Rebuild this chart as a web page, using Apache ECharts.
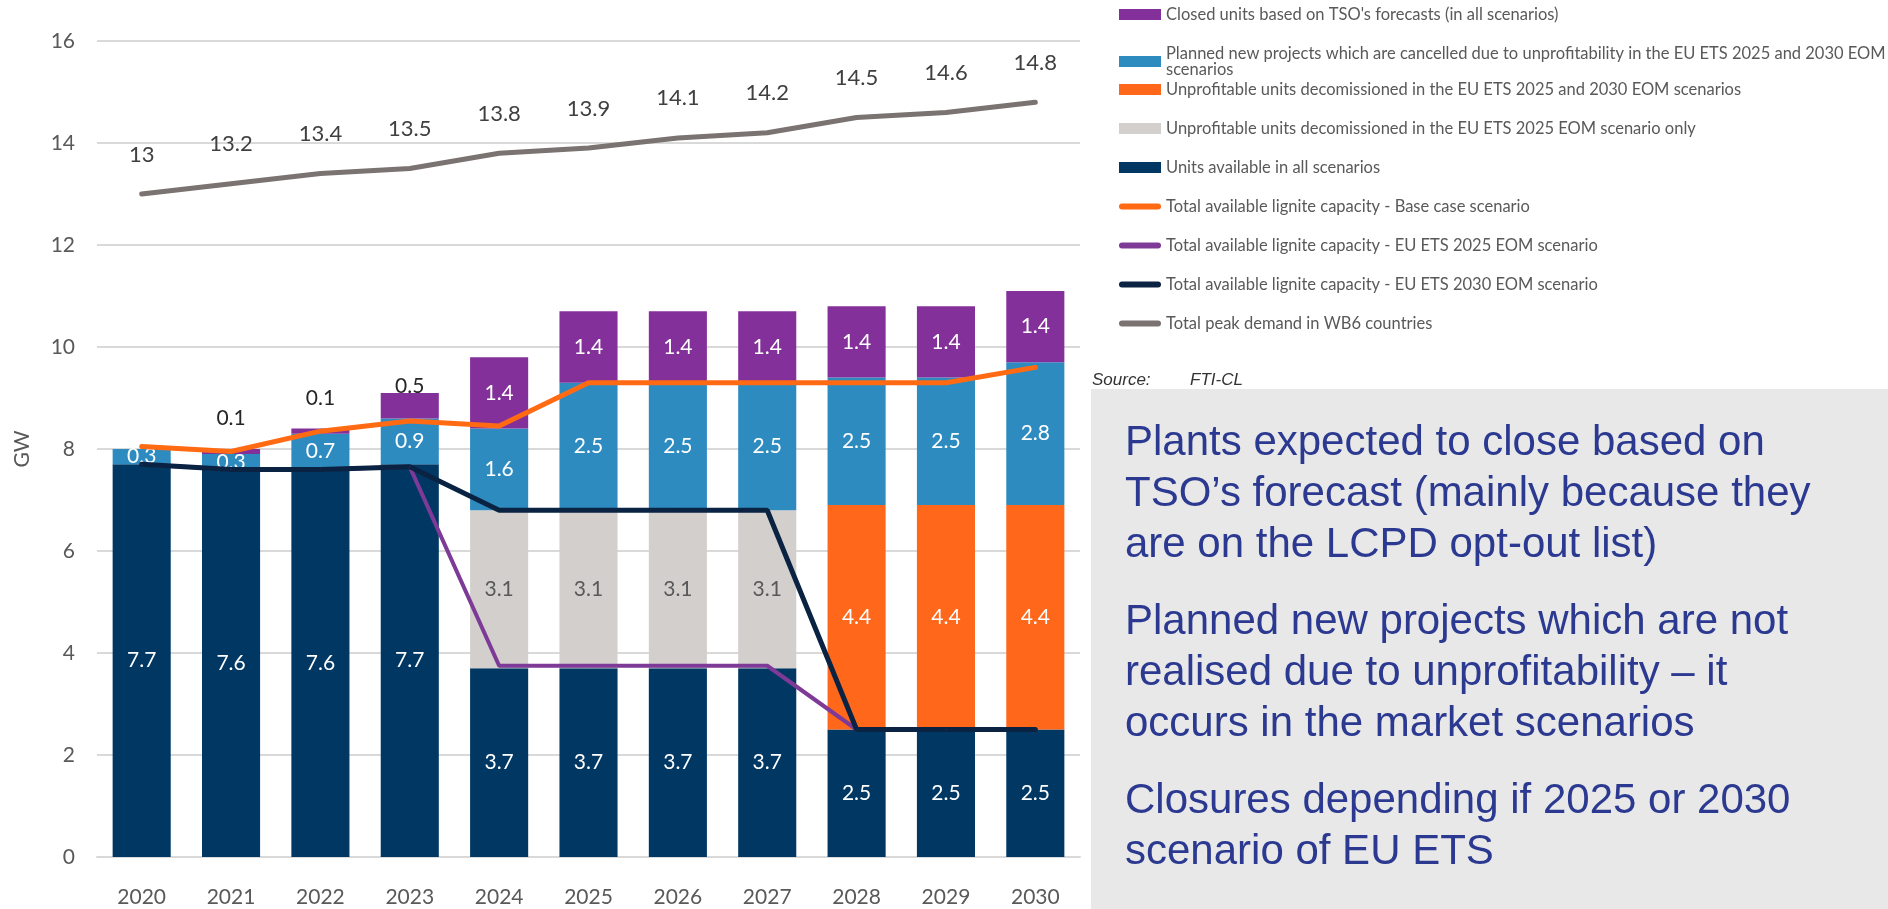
<!doctype html>
<html lang="en">
<head>
<meta charset="UTF-8">
<title>Lignite capacity in WB6</title>
<script src="https://cdn.jsdelivr.net/npm/echarts@6.0.0/dist/echarts.min.js"></script>
<style>
    html, body { margin: 0; padding: 0; background: #fff; }
    #main { width: 1888px; height: 909px; }
</style>
</head>
<body>
<div id="main"></div>
<script type="text/javascript">
// categories
var years = ['2020', '2021', '2022', '2023', '2024', '2025', '2026', '2027', '2028', '2029', '2030'];

// stacked bars (GW), bottom to top
var unitsAll   = [7.7, 7.6, 7.6, 7.7, 3.7, 3.7, 3.7, 3.7, 2.5, 2.5, 2.5];
var decom2025  = [0, 0, 0, 0, 3.1, 3.1, 3.1, 3.1, 0, 0, 0];
var decomBoth  = [0, 0, 0, 0, 0, 0, 0, 0, 4.4, 4.4, 4.4];
var cancelled  = [0.3, 0.3, 0.7, 0.9, 1.6, 2.5, 2.5, 2.5, 2.5, 2.5, 2.8];
var closedTso  = [0, 0.1, 0.1, 0.5, 1.4, 1.4, 1.4, 1.4, 1.4, 1.4, 1.4];

// lines (GW)
var baseCase   = [8.05, 7.95, 8.35, 8.55, 8.45, 9.3, 9.3, 9.3, 9.3, 9.3, 9.6];
var ets2025    = [7.7, 7.6, 7.6, 7.65, 3.75, 3.75, 3.75, 3.75, 2.5, 2.5, 2.5];
var ets2030    = [7.7, 7.6, 7.6, 7.65, 6.8, 6.8, 6.8, 6.8, 2.5, 2.5, 2.5];
var peakDemand = [13, 13.2, 13.4, 13.5, 13.8, 13.9, 14.1, 14.2, 14.5, 14.6, 14.8];

// right hand text box
var notes = [
    ['Plants expected to close based on', 'TSO\u2019s forecast (mainly because they', 'are on the LCPD opt-out list)'],
    ['Planned new projects which are not', 'realised due to unprofitability \u2013 it', 'occurs in the market scenarios'],
    ['Closures depending if 2025 or 2030', 'scenario of EU ETS']
];

var names = [
    "Closed units based on TSO's forecasts (in all scenarios)",
    'Planned new projects which are cancelled due to unprofitability in the EU ETS 2025 and 2030 EOM scenarios',
    'Unprofitable units decomissioned in the EU ETS 2025 and 2030 EOM scenarios',
    'Unprofitable units decomissioned in the EU ETS 2025 EOM scenario only',
    'Units available in all scenarios',
    'Total available lignite capacity - Base case scenario',
    'Total available lignite capacity - EU ETS 2025 EOM scenario',
    'Total available lignite capacity - EU ETS 2030 EOM scenario',
    'Total peak demand in WB6 countries'
];

var FONT = 'Lato, "Open Sans", sans-serif';
var lineIcon = 'path://M3,0 L39,0 A3,3 0 0 1 39,6 L3,6 A3,3 0 0 1 3,0 Z';

function hideZero(p) {
    return p.value ? String(p.value) : '';
}

function barSeries(name, data, color, labelColor) {
    return {
        name: name,
        type: 'bar',
        stack: 'cap',
        barWidth: '65%',
        data: data,
        itemStyle: { color: color },
        label: {
            show: true,
            position: 'inside',
            formatter: hideZero,
            color: labelColor,
            fontFamily: FONT,
            fontSize: 21
        }
    };
}

function lineSeries(name, data, color, width) {
    return {
        name: name,
        type: 'line',
        data: data,
        symbol: 'circle',
        symbolSize: 1,
        itemStyle: { color: color },
        lineStyle: { color: color, width: width, cap: 'round' },
        z: 5
    };
}

// small purple segments get their label above the bar
var closedData = closedTso.map(function (v) {
    if (v > 0 && v < 1) {
        return { value: v, label: { position: 'top', color: '#262626', distance: v < 0.3 ? 20 : -4 } };
    }
    return v;
});

var series = [
    barSeries(names[4], unitsAll, '#003763', '#ffffff'),
    barSeries(names[3], decom2025, '#D2CFCD', '#595959'),
    barSeries(names[2], decomBoth, '#FF671B', '#ffffff'),
    barSeries(names[1], cancelled, '#2E8BC0', '#ffffff'),
    barSeries(names[0], closedData, '#84309A', '#ffffff'),
    lineSeries(names[5], baseCase, '#FF6A13', 5),
    lineSeries(names[6], ets2025, '#7E3A97', 4),
    lineSeries(names[7], ets2030, '#0B2342', 5),
    lineSeries(names[8], peakDemand, '#7A7371', 5)
];
series[8].label = {
    show: true,
    position: 'top',
    distance: 28,
    color: '#404040',
    fontFamily: FONT,
    fontSize: 22
};

var legendText = { color: '#595959', fontFamily: FONT, fontSize: 16.5, lineHeight: 16 };

var graphics = [
    { type: 'rect', left: 1091, top: 389, silent: true,
      shape: { width: 797, height: 520 }, style: { fill: '#E8E8E8' } },
    { type: 'text', x: 1092, y: 380,
      style: { text: 'Source:', font: 'italic 17px "Liberation Sans", Arial, sans-serif', fill: '#333',
               textAlign: 'left', textVerticalAlign: 'middle', align: 'left', verticalAlign: 'middle' } },
    { type: 'text', x: 1190, y: 380,
      style: { text: 'FTI-CL', font: 'italic 17px "Liberation Sans", Arial, sans-serif', fill: '#333',
               textAlign: 'left', textVerticalAlign: 'middle', align: 'left', verticalAlign: 'middle' } }
];
var k = 0;
for (var p = 0; p < notes.length; p++) {
    for (var l = 0; l < notes[p].length; l++) {
        graphics.push({
            type: 'text', x: 1125, y: 443 + k * 51 + p * 26,
            style: { text: notes[p][l], font: '42px "Liberation Sans", Arial, sans-serif', fill: '#2B3990',
                     textAlign: 'left', textVerticalAlign: 'middle', align: 'left', verticalAlign: 'middle' }
        });
        k++;
    }
}

var myChart = echarts.init(document.getElementById('main'));
var option = {
    animation: false,
    backgroundColor: '#ffffff',
    grid: { left: 97, right: 808, top: 41, bottom: 52 },
    legend: [
        {
            orient: 'vertical', left: 1119, top: 6, padding: 0, itemGap: 22,
            itemWidth: 42, itemHeight: 11,
            data: [
                { name: names[0], icon: 'rect' },
                { name: names[1], icon: 'rect' }
            ],
            formatter: function (n) {
                return n === names[1] ? n.replace(/ scenarios$/, '\nscenarios') : n;
            },
            textStyle: legendText
        },
        {
            orient: 'vertical', left: 1119, top: 81, padding: 0, itemGap: 22,
            itemWidth: 42, itemHeight: 11,
            data: [
                { name: names[2], icon: 'rect' },
                { name: names[3], icon: 'rect' },
                { name: names[4], icon: 'rect' },
                { name: names[5], icon: lineIcon },
                { name: names[6], icon: lineIcon },
                { name: names[7], icon: lineIcon },
                { name: names[8], icon: lineIcon }
            ],
            textStyle: legendText
        }
    ],
    xAxis: {
        type: 'category',
        data: years,
        axisTick: { show: false },
        axisLine: { lineStyle: { color: '#D9D9D9', width: 2 } },
        axisLabel: { color: '#595959', fontFamily: FONT, fontSize: 21, margin: 30 }
    },
    yAxis: {
        type: 'value',
        min: 0,
        max: 16,
        interval: 2,
        name: 'GW',
        nameLocation: 'middle',
        nameRotate: 90,
        nameGap: 64,
        nameTextStyle: { color: '#595959', fontFamily: FONT, fontSize: 21 },
        axisLine: { show: false },
        axisTick: { show: false },
        axisLabel: { color: '#595959', fontFamily: FONT, fontSize: 21, margin: 22 },
        splitLine: { lineStyle: { color: '#D9D9D9', width: 2 } }
    },
    graphic: graphics,
    series: series
};
myChart.setOption(option);
</script>
</body>
</html>
